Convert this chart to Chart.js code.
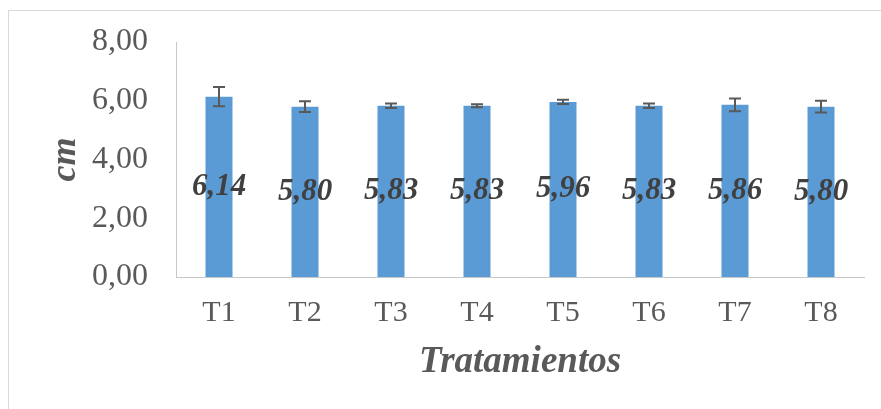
<!DOCTYPE html>
<html>
<head>
<meta charset="utf-8">
<script src="https://cdn.jsdelivr.net/npm/chart.js@4/dist/chart.umd.min.js"></script>
<style>
  body { margin: 0; background: #fff; }
  #wrap { position: relative; width: 881px; height: 409px; }
  #frame { position: absolute; left: 8px; top: 10px; right: 0; bottom: 0; border-left: 1px solid #d9d9d9; border-top: 1px solid #d9d9d9; }
  canvas { position: absolute; left: 0; top: 0; }
</style>
</head>
<body>
<div id="wrap">
  <div id="frame"></div>
  <canvas id="chart" width="881" height="409"></canvas>
</div>
<script>
// Data
const tratamientos = ['T1', 'T2', 'T3', 'T4', 'T5', 'T6', 'T7', 'T8'];
const medias = [6.14, 5.80, 5.83, 5.83, 5.96, 5.83, 5.86, 5.80];
const errores = [0.33, 0.18, 0.08, 0.05, 0.07, 0.08, 0.22, 0.20];
const yTicks = [0, 2, 4, 6, 8];

const serif = "'Liberation Serif', 'Times New Roman', serif";
const coma = v => v.toFixed(2).replace('.', ',');

// error bars + value labels in the middle of each bar
const extras = {
  id: 'extras',
  afterDatasetsDraw(chart) {
    const ctx = chart.ctx;
    const y = chart.scales.y;
    const bars = chart.getDatasetMeta(0).data;
    ctx.save();
    bars.forEach((bar, i) => {
      const top = y.getPixelForValue(medias[i] + errores[i]);
      const bot = y.getPixelForValue(medias[i] - errores[i]);
      ctx.strokeStyle = '#595959';
      ctx.lineWidth = 2;
      ctx.beginPath();
      ctx.moveTo(bar.x, top); ctx.lineTo(bar.x, bot);
      ctx.moveTo(bar.x - 6, top); ctx.lineTo(bar.x + 6, top);
      ctx.moveTo(bar.x - 6, bot); ctx.lineTo(bar.x + 6, bot);
      ctx.stroke();
    });
    ctx.font = 'italic bold 31px ' + serif;
    ctx.fillStyle = '#404040';
    ctx.textAlign = 'center';
    ctx.textBaseline = 'middle';
    bars.forEach((bar, i) => {
      ctx.fillText(coma(medias[i]), bar.x, (bar.y + bar.base) / 2);
    });
    ctx.restore();
  }
};

new Chart(document.getElementById('chart').getContext('2d'), {
  type: 'bar',
  data: {
    labels: tratamientos,
    datasets: [{
      data: medias,
      backgroundColor: '#5b9bd5',
      barPercentage: 0.314,
      categoryPercentage: 1
    }]
  },
  options: {
    responsive: false,
    animation: false,
    layout: { padding: { top: 0, right: 17, left: 0, bottom: 0 } },
    plugins: { legend: { display: false }, tooltip: { enabled: false } },
    scales: {
      x: {
        grid: { display: false, drawTicks: false },
        border: { display: true, color: '#c8c8c8', width: 1 },
        ticks: { color: '#595959', font: { family: serif, size: 30 }, padding: 18 },
        title: {
          display: true, text: 'Tratamientos', color: '#595959',
          font: { family: serif, size: 37, style: 'italic', weight: 'bold' },
          padding: { top: 0, bottom: 24 }
        },
        afterFit: s => { s.height = 132; }
      },
      y: {
        min: 0, max: 8,
        afterBuildTicks: s => { s.ticks = yTicks.map(v => ({ value: v })); },
        grid: { display: false, drawTicks: false },
        border: { display: true, color: '#c8c8c8', width: 1 },
        ticks: { color: '#595959', font: { family: serif, size: 32 }, padding: 28, callback: v => coma(v) },
        title: {
          display: true, text: 'cm', color: '#595959',
          font: { family: serif, size: 36, style: 'italic', weight: 'bold' },
          padding: { top: 44, bottom: 0 }
        },
        afterFit: s => { s.width = 176; s.paddingTop = 42; s.paddingBottom = 0; }
      }
    }
  },
  plugins: [extras]
});
</script>
</body>
</html>
